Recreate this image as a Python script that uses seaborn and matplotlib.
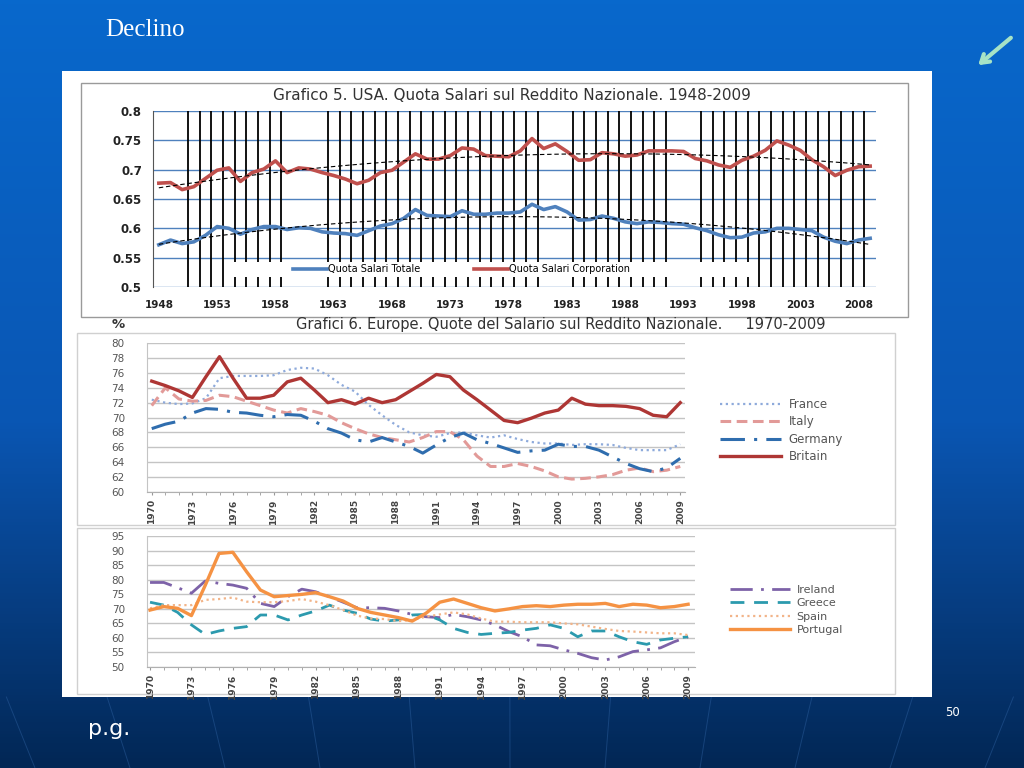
import numpy as np
import matplotlib
matplotlib.use("Agg")
import matplotlib.pyplot as plt
import seaborn as sns
from matplotlib.patches import Rectangle
from matplotlib.colors import LinearSegmentedColormap

# ---- Grafico 5: USA, quota salari 1948-2009 ----
usa_years = list(range(1948, 2010))
usa_corporation = [
    0.677, 0.678, 0.666, 0.671, 0.685, 0.699, 0.703, 0.680, 0.695, 0.701,
    0.715, 0.695, 0.703, 0.701, 0.695, 0.690, 0.684, 0.676, 0.682, 0.695,
    0.699, 0.713, 0.727, 0.718, 0.718, 0.724, 0.737, 0.735, 0.724, 0.723,
    0.722, 0.732, 0.753, 0.736, 0.744, 0.731, 0.716, 0.717, 0.729, 0.727,
    0.723, 0.725, 0.732, 0.732, 0.732, 0.731, 0.719, 0.715, 0.708, 0.704,
    0.716, 0.723, 0.733, 0.749, 0.742, 0.733, 0.717, 0.705, 0.690, 0.699,
    0.705, 0.706]
usa_totale = [
    0.572, 0.580, 0.574, 0.577, 0.588, 0.603, 0.600, 0.590, 0.598, 0.603,
    0.603, 0.598, 0.601, 0.600, 0.594, 0.592, 0.591, 0.588, 0.596, 0.604,
    0.608, 0.617, 0.632, 0.622, 0.621, 0.620, 0.630, 0.624, 0.624, 0.626,
    0.626, 0.628, 0.641, 0.632, 0.637, 0.628, 0.614, 0.615, 0.621, 0.617,
    0.611, 0.608, 0.611, 0.610, 0.608, 0.607, 0.601, 0.596, 0.589, 0.584,
    0.585, 0.592, 0.594, 0.600, 0.600, 0.598, 0.596, 0.585, 0.578, 0.574,
    0.580, 0.583]
# years marked by the black vertical bars (bar drawn on the year's left edge)
usa_marked_years = ([1951, 1952, 1953, 1954, 1955, 1956, 1957, 1958, 1959]
                    + list(range(1963, 1982))
                    + list(range(1984, 1993))
                    + list(range(1995, 2010)))
usa_xticks = [1948, 1953, 1958, 1963, 1968, 1973, 1978, 1983, 1988, 1993, 1998, 2003, 2008]
usa_xlabels = ["1948", "1953", "1958", "1963", "1968", "1973", "1978",
               "1983", "1988", "1993", "1998", "2003", "2008"]
usa_yticks = [0.5, 0.55, 0.6, 0.65, 0.7, 0.75, 0.8]
usa_ylabels = ["0.5", "0.55", "0.6", "0.65", "0.7", "0.75", "0.8"]

# ---- Grafici 6: Europe 1970-2009 ----
eu_years = list(range(1970, 2010))
france = [72.4, 72.0, 71.8, 71.9, 72.6, 75.3, 75.6, 75.6, 75.6, 75.7,
          76.4, 76.7, 76.6, 75.7, 74.4, 73.5, 71.7, 70.3, 69.0, 68.0,
          67.6, 67.4, 67.9, 68.0, 67.6, 67.3, 67.6, 67.1, 66.7, 66.5,
          66.5, 66.3, 66.4, 66.4, 66.3, 65.9, 65.6, 65.6, 65.6, 66.4]
italy = [71.6, 74.0, 72.5, 72.2, 72.3, 73.0, 72.8, 72.2, 71.6, 71.0,
         70.6, 71.2, 70.8, 70.3, 69.3, 68.5, 67.8, 67.3, 67.0, 66.7,
         67.3, 68.1, 68.1, 67.0, 64.8, 63.4, 63.4, 63.8, 63.4, 62.8,
         62.0, 61.7, 61.8, 62.0, 62.3, 62.9, 63.2, 62.7, 62.9, 63.4]
germany = [68.5, 69.1, 69.5, 70.6, 71.2, 71.1, 70.7, 70.6, 70.3, 70.1,
           70.4, 70.3, 69.5, 68.5, 67.9, 67.0, 66.7, 67.3, 66.7, 66.1,
           65.2, 66.3, 67.3, 67.9, 67.0, 66.5, 65.9, 65.3, 65.5, 65.6,
           66.4, 66.1, 66.1, 65.6, 64.7, 63.8, 63.1, 62.7, 63.2, 64.5]
britain = [74.9, 74.3, 73.6, 72.7, 75.5, 78.2, 75.3, 72.6, 72.6, 73.0,
           74.8, 75.3, 73.7, 72.0, 72.4, 71.8, 72.6, 72.0, 72.4, 73.5,
           74.6, 75.8, 75.5, 73.7, 72.4, 71.0, 69.6, 69.3, 69.9, 70.6,
           71.0, 72.6, 71.8, 71.6, 71.6, 71.5, 71.2, 70.3, 70.1, 72.0]

ireland = [79.0, 79.0, 77.2, 75.3, 79.5, 78.7, 78.1, 77.0, 71.8, 70.7,
           74.1, 76.7, 75.8, 74.1, 72.2, 70.3, 70.3, 70.1, 69.2, 68.0,
           67.2, 66.9, 68.0, 67.2, 66.1, 64.4, 62.1, 60.3, 57.5, 57.2,
           55.8, 54.6, 53.1, 52.3, 53.4, 55.2, 55.8, 56.5, 58.6, 60.3]
greece = [72.2, 71.2, 68.7, 64.4, 61.1, 62.3, 63.2, 63.8, 67.8, 67.8,
          66.1, 67.8, 69.2, 71.2, 69.5, 68.4, 66.4, 65.7, 66.1, 67.8,
          68.0, 66.1, 63.2, 61.8, 61.1, 61.5, 61.8, 62.6, 63.2, 64.4,
          63.2, 60.3, 62.3, 62.3, 60.3, 58.6, 57.7, 59.2, 59.8, 60.3]
spain = [70.1, 71.2, 71.2, 71.2, 73.0, 73.3, 73.8, 72.4, 72.2, 72.2,
         72.6, 73.3, 72.4, 71.2, 69.5, 67.6, 66.6, 66.4, 65.7, 66.1,
         67.2, 68.0, 68.7, 68.0, 66.6, 65.5, 65.5, 65.3, 65.3, 65.3,
         64.9, 64.6, 63.8, 63.0, 62.3, 62.1, 61.8, 61.5, 61.5, 60.9]
portugal = [69.5, 70.7, 70.1, 67.6, 78.0, 89.0, 89.4, 82.7, 76.4, 74.1,
            74.5, 74.9, 75.5, 74.1, 72.6, 70.1, 68.7, 67.8, 66.9, 65.7,
            68.4, 72.2, 73.3, 71.8, 70.3, 69.2, 69.9, 70.7, 71.0, 70.7,
            71.2, 71.5, 71.5, 71.8, 70.7, 71.5, 71.2, 70.3, 70.7, 71.5]

eu_xticks = [1970, 1973, 1976, 1979, 1982, 1985, 1988, 1991, 1994, 1997, 2000, 2003, 2006, 2009]
eu_xlabels = [str(y) for y in eu_xticks]
big_yticks = [60, 62, 64, 66, 68, 70, 72, 74, 76, 78, 80]
small_yticks = [50, 55, 60, 65, 70, 75, 80, 85, 90, 95]

W, H = 1024, 768
fig = plt.figure(figsize=(W / 100, H / 100), dpi=100)

# slide background, in pixel coordinates
bg = fig.add_axes([0, 0, 1, 1])
bg.set_xlim(0, W)
bg.set_ylim(H, 0)
bg.axis("off")
cmap = LinearSegmentedColormap.from_list(
    "slide", [(0, "#0868CC"), (0.55, "#0A56B3"), (0.88, "#05346F"), (1, "#022755")])
bg.imshow(np.linspace(0, 1, 256).reshape(-1, 1), cmap=cmap,
          extent=(0, W, H, 0), aspect="auto", zorder=0)
# faint decorative fan of lines under the panel
for xb in np.arange(-250, 1300, 95):
    x_top = 512 + (xb - 512) * 1.06
    bg.plot([x_top, xb], [697, H], color="#2F62A2", lw=0.7, alpha=0.45, zorder=1)

bg.add_patch(Rectangle((62, 71), 870, 626, facecolor="white", edgecolor="none", zorder=2))
bg.add_patch(Rectangle((81, 83), 827, 234, facecolor="none", edgecolor="#9A9A9A", lw=1, zorder=3))
bg.add_patch(Rectangle((77, 333), 818, 192, facecolor="none", edgecolor="#D0D0D0", lw=1, zorder=3))
bg.add_patch(Rectangle((77, 528), 818, 166, facecolor="none", edgecolor="#D0D0D0", lw=1, zorder=3))

bg.text(105, 30, "Declino", fontsize=18, color="white", family="Liberation Serif",
        va="center", ha="left", zorder=4)
bg.text(88, 729, "p.g.", fontsize=16, color="white", family="DejaVu Sans",
        va="center", ha="left", zorder=4)
bg.text(952, 713, "50", fontsize=8.5, color="white", family="DejaVu Sans",
        va="center", ha="center", zorder=4)
bg.annotate("", xy=(976, 67), xytext=(1013, 36),
            arrowprops=dict(arrowstyle="->,head_length=0.55,head_width=0.35",
                            color="#A6E3C6", lw=3), zorder=4)

bg.text(512, 96, "Grafico 5. USA. Quota Salari sul Reddito Nazionale. 1948-2009",
        fontsize=11, color="#333333", ha="center", va="center", zorder=4)
bg.text(118, 325, "%", fontsize=9.5, color="#333333", ha="center", va="center",
        fontweight="bold", zorder=4)
bg.text(561, 325, "Grafici 6. Europe. Quote del Salario sul Reddito Nazionale.     1970-2009",
        fontsize=10.5, color="#333333", ha="center", va="center", zorder=4)

# ---- chart 1 ----
ax1 = fig.add_axes([153 / W, 1 - 287 / H, 723 / W, 176 / H])
ax1.set_facecolor("none")
ax1.vlines(np.array(usa_marked_years) - 0.5, 0.5, 0.8, color="black", lw=1.3, zorder=1)
ax1.add_patch(Rectangle((0.1065, 0.057), 0.722, 0.085, transform=ax1.transAxes,
                        facecolor="white", edgecolor="none", zorder=2))
sns.lineplot(x=usa_years, y=usa_totale, ax=ax1, color="#4F81BD", lw=2.6,
             label="Quota Salari Totale", zorder=3)
sns.lineplot(x=usa_years, y=usa_corporation, ax=ax1, color="#C0504D", lw=2.6,
             label="Quota Salari Corporation", zorder=3)
for series in (usa_corporation, usa_totale):
    sns.regplot(x=np.array(usa_years), y=np.array(series), order=2, scatter=False,
                ci=None, ax=ax1,
                line_kws=dict(color="black", lw=0.8, ls=(0, (4, 2.5)), zorder=4))
ax1.set_xlim(1947.5, 2009.5)
ax1.set_ylim(0.5, 0.8)
ax1.set_yticks(usa_yticks, usa_ylabels)
ax1.set_xticks(usa_xticks, usa_xlabels)
ax1.set_xlabel("")
ax1.set_ylabel("")
ax1.grid(axis="y", color="#4F81BD", lw=1)
ax1.grid(axis="x", visible=False)
ax1.set_axisbelow(True)
for side in ("top", "bottom", "right"):
    ax1.spines[side].set_visible(False)
ax1.spines["left"].set_color("#555555")
ax1.tick_params(length=0, labelsize=8.5, labelcolor="#222222")
ax1.tick_params(axis="y", pad=8)
ax1.tick_params(axis="x", pad=9, labelsize=7.5)
for lab in ax1.get_xticklabels() + ax1.get_yticklabels():
    lab.set_fontweight("bold")
h, l = ax1.get_legend_handles_labels()
ax1.legend(h, l, ncol=2, loc="center left", bbox_to_anchor=((293 - 153) / 723, 0.1),
           frameon=False, fontsize=7, handlelength=3.5, handletextpad=0.1,
           columnspacing=5.5, borderpad=0, borderaxespad=0)

# ---- chart 2 and 3 common style ----
def style_europe(ax, yticks, xlim):
    ax.set_facecolor("none")
    ax.set_xlim(*xlim)
    ax.set_ylim(yticks[0], yticks[-1])
    ax.set_yticks(yticks, [str(v) for v in yticks])
    ax.set_xticks(eu_xticks, eu_xlabels)
    ax.set_xticks(eu_years, minor=True)
    ax.set_xlabel("")
    ax.set_ylabel("")
    ax.grid(axis="y", color="#C4C4C4", lw=1)
    ax.grid(axis="x", visible=False)
    ax.set_axisbelow(True)
    for side in ("top", "right"):
        ax.spines[side].set_visible(False)
    ax.spines["left"].set_color("#C4C4C4")
    ax.spines["bottom"].set_color("#B0B0B0")
    ax.tick_params(axis="y", length=0, pad=16, labelsize=7.5, labelcolor="#555555")
    ax.tick_params(axis="x", which="both", length=2.5, color="#999999", pad=3,
                   labelsize=6.5, labelcolor="#444444", labelrotation=90)
    for lab in ax.get_xticklabels():
        lab.set_fontweight("bold")

ax2 = fig.add_axes([147 / W, 1 - 491.7 / H, 538 / W, 148.4 / H])
sns.lineplot(x=eu_years, y=france, ax=ax2, color="#8EAADB", lw=1.6,
             linestyle=(0, (1, 1.6)), label="France")
sns.lineplot(x=eu_years, y=italy, ax=ax2, color="#E29A98", lw=2.2,
             linestyle=(0, (3.5, 1.8)), label="Italy")
sns.lineplot(x=eu_years, y=germany, ax=ax2, color="#2F6DAE", lw=2.2,
             linestyle=(0, (8, 3, 1, 3)), label="Germany")
sns.lineplot(x=eu_years, y=britain, ax=ax2, color="#AE3634", lw=2.4, label="Britain")
style_europe(ax2, big_yticks, (1969.65, 2009.35))
ax2.legend(loc="upper left", bbox_to_anchor=(720 / W, 1 - 398 / H),
           bbox_transform=fig.transFigure, frameon=False, fontsize=8.5,
           handlelength=5.2, handletextpad=0.6, labelspacing=0.38,
           borderpad=0, borderaxespad=0, labelcolor="#555555")

ax3 = fig.add_axes([147 / W, 1 - 666.7 / H, 548 / W, 130.7 / H])
sns.lineplot(x=eu_years, y=ireland, ax=ax3, color="#7D62A8", lw=2.0,
             linestyle=(0, (8, 3, 1, 3)), label="Ireland")
sns.lineplot(x=eu_years, y=greece, ax=ax3, color="#2C9AAE", lw=2.0,
             linestyle=(0, (5, 3.5)), label="Greece")
sns.lineplot(x=eu_years, y=spain, ax=ax3, color="#F2B489", lw=1.6,
             linestyle=(0, (1, 1.6)), label="Spain")
sns.lineplot(x=eu_years, y=portugal, ax=ax3, color="#F59243", lw=2.4, label="Portugal")
style_europe(ax3, small_yticks, (1969.78, 2009.5))
ax3.legend(loc="upper left", bbox_to_anchor=(730 / W, 1 - 585 / H),
           bbox_transform=fig.transFigure, frameon=False, fontsize=8,
           handlelength=5.4, handletextpad=0.6, labelspacing=0.3,
           borderpad=0, borderaxespad=0, labelcolor="#555555")

fig.savefig("out.png", dpi=100)
